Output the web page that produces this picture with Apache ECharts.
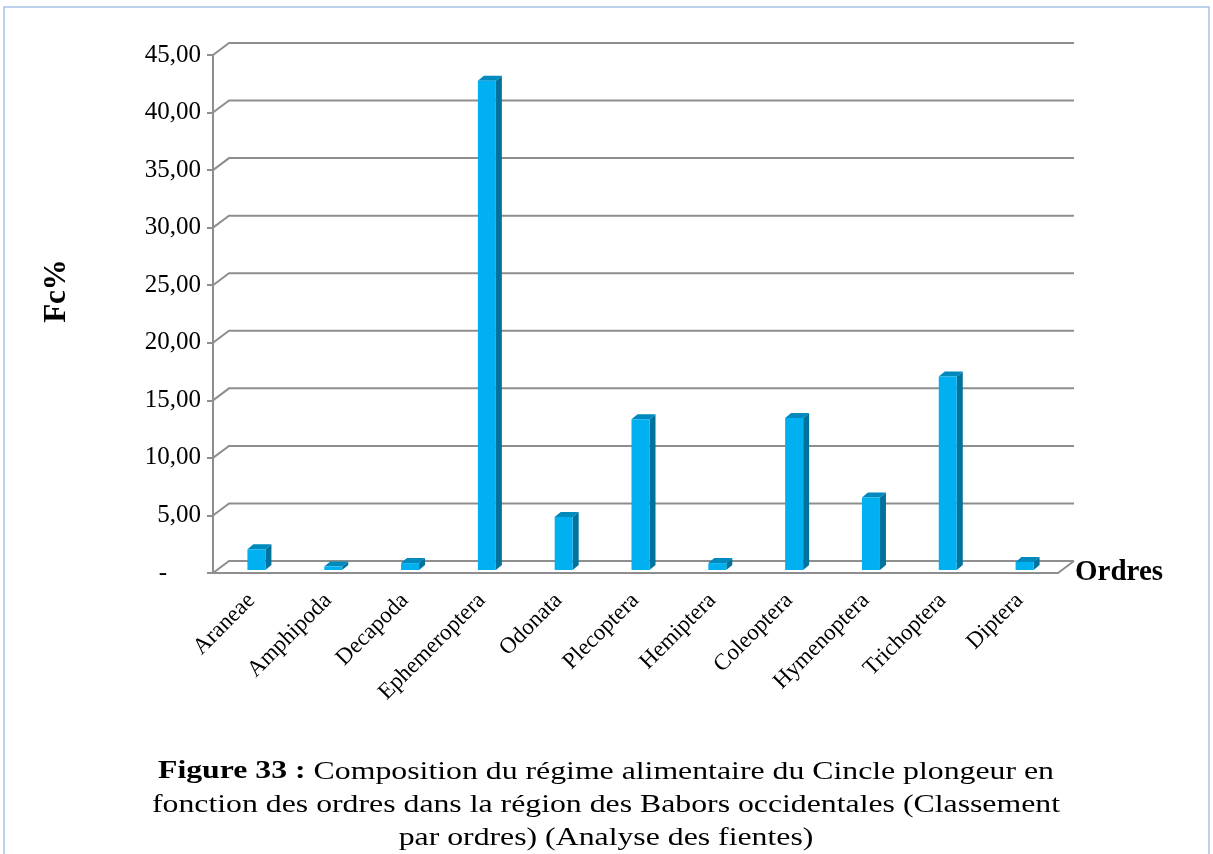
<!DOCTYPE html>
<html>
<head>
<meta charset="utf-8">
<script src="https://cdn.jsdelivr.net/npm/echarts@6/dist/echarts.min.js"></script>
<style>
  html, body { margin: 0; padding: 0; background: #fff; }
  #main { width: 1213px; height: 854px; }
</style>
</head>
<body>
<div id="main"></div>
<script>
// données
var categories = ['Araneae', 'Amphipoda', 'Decapoda', 'Ephemeroptera', 'Odonata', 'Plecoptera',
                  'Hemiptera', 'Coleoptera', 'Hymenoptera', 'Trichoptera', 'Diptera'];
var fcValues = [1.8, 0.3, 0.6, 42.5, 4.6, 13.1, 0.6, 13.2, 6.3, 16.8, 0.7];
var yTicks = [0, 5, 10, 15, 20, 25, 30, 35, 40, 45];

var captionLines = [
    'Composition du régime alimentaire du Cincle plongeur en',
    'fonction des ordres dans la région des Babors occidentales (Classement',
    'par ordres) (Analyse des fientes)'
];

var FONT = 'Liberation Serif';
var DX = 16, DY = 12;          // profondeur du mur du fond
var GRID_COLOR = '#8e8e8e';

var myChart = echarts.init(document.getElementById('main'));

// la légende de la figure est un peu étirée en largeur dans l'original
var ctx = document.createElement('canvas').getContext('2d');
ctx.font = '25px "Liberation Serif"';
var capScale = 908 / ctx.measureText(captionLines[1]).width;

// murs + plancher (effet 3D)
function renderWall(params, api) {
    var cs = params.coordSys;
    var v = api.value(1);
    var y = api.coord([0, v])[1];
    var x0 = cs.x, x1 = cs.x + cs.width;
    var style = { stroke: GRID_COLOR, lineWidth: 2, fill: null };
    var children = [{
        type: 'polyline',
        shape: { points: [[x0, y], [x0 + DX, y - DY], [x1 + DX, y - DY]] },
        style: style
    }];
    if (v === 0) {
        children.push({
            type: 'polyline',
            shape: { points: [[x0, y], [x1, y], [x1 + DX, y - DY]] },
            style: style
        });
    }
    return { type: 'group', children: children };
}

// barres en 3D
function renderBar(params, api) {
    var i = api.value(0);
    var base = api.coord([i, 0]);
    var top = api.coord([i, api.value(1)]);
    var cx = base[0] + 5;
    var yb = base[1] - 3;
    var yt = top[1] - 3;
    var w = 9, sx = 6, sy = 5;
    return {
        type: 'group',
        children: [
            { type: 'polygon',
              shape: { points: [[cx + w, yt], [cx + w + sx, yt - sy], [cx + w + sx, yb - sy], [cx + w, yb]] },
              style: { fill: '#00729c' } },
            { type: 'polygon',
              shape: { points: [[cx - w, yt], [cx - w + sx, yt - sy], [cx + w + sx, yt - sy], [cx + w, yt]] },
              style: { fill: '#0089bd' } },
            { type: 'rect',
              shape: { x: cx - w, y: yt, width: 2 * w, height: yb - yt },
              style: { fill: '#00b0f0' } }
        ]
    };
}

var capStyle = { fontFamily: FONT, fontSize: 25, fill: '#000' };

var option = {
    animation: false,
    grid: { left: 213, right: 155, top: 55, bottom: 281 },
    xAxis: {
        type: 'category',
        data: categories,
        name: 'Ordres',
        nameLocation: 'end',
        nameGap: 17,
        nameTextStyle: { fontFamily: FONT, fontSize: 29, fontWeight: 'bold', color: '#000', padding: [10, 0, 0, 0] },
        axisLine: { show: false },
        axisTick: { show: false },
        axisLabel: { rotate: 45, margin: 24, fontFamily: FONT, fontSize: 23, color: '#000', interval: 0 }
    },
    yAxis: {
        type: 'value',
        min: 0,
        max: 45,
        interval: 5,
        axisLine: { show: true, lineStyle: { color: GRID_COLOR, width: 2 } },
        axisTick: { show: true, length: 6, lineStyle: { color: GRID_COLOR, width: 2 } },
        splitLine: { show: false },
        axisLabel: {
            margin: 12,
            fontFamily: FONT, fontSize: 25, color: '#000',
            formatter: function (v) {
                if (v === 0) return '{d|-}';
                return v.toFixed(2).replace('.', ',');
            },
            rich: { d: { fontFamily: FONT, fontSize: 25, color: '#000', padding: [0, 34, 0, 0] } }
        }
    },
    graphic: [
        { type: 'rect', shape: { x: 4, y: 7, width: 1205, height: 900 },
          style: { fill: null, stroke: '#a7c4e6', lineWidth: 1.5 }, z: -10 },
        { type: 'text', x: 57, y: 291, rotation: Math.PI / 2,
          style: { text: 'Fc%', align: 'center', verticalAlign: 'middle',
                   font: 'bold 31px "Liberation Serif"', fill: '#000' } },
        {
            type: 'group', x: 606, y: 0, scaleX: capScale,
            children: [
                { type: 'text', x: 0, y: 772,
                  style: { text: '{b|Figure 33 :} ' + captionLines[0], align: 'center', verticalAlign: 'middle',
                           fontFamily: FONT, fontSize: 25, fill: '#000',
                           rich: { b: { fontFamily: FONT, fontSize: 25, fontWeight: 'bold', fill: '#000' } } } },
                { type: 'text', x: 0, y: 805,
                  style: Object.assign({ text: captionLines[1], align: 'center', verticalAlign: 'middle' }, capStyle) },
                { type: 'text', x: 0, y: 838,
                  style: Object.assign({ text: captionLines[2], align: 'center', verticalAlign: 'middle' }, capStyle) }
            ]
        }
    ],
    series: [
        {
            type: 'custom',
            renderItem: renderWall,
            clip: false,
            silent: true,
            z: 1,
            data: yTicks.map(function (v) { return [0, v]; })
        },
        {
            type: 'custom',
            renderItem: renderBar,
            clip: false,
            z: 3,
            data: fcValues.map(function (v, i) { return [i, v]; })
        }
    ]
};

myChart.setOption(option);
</script>
</body>
</html>
